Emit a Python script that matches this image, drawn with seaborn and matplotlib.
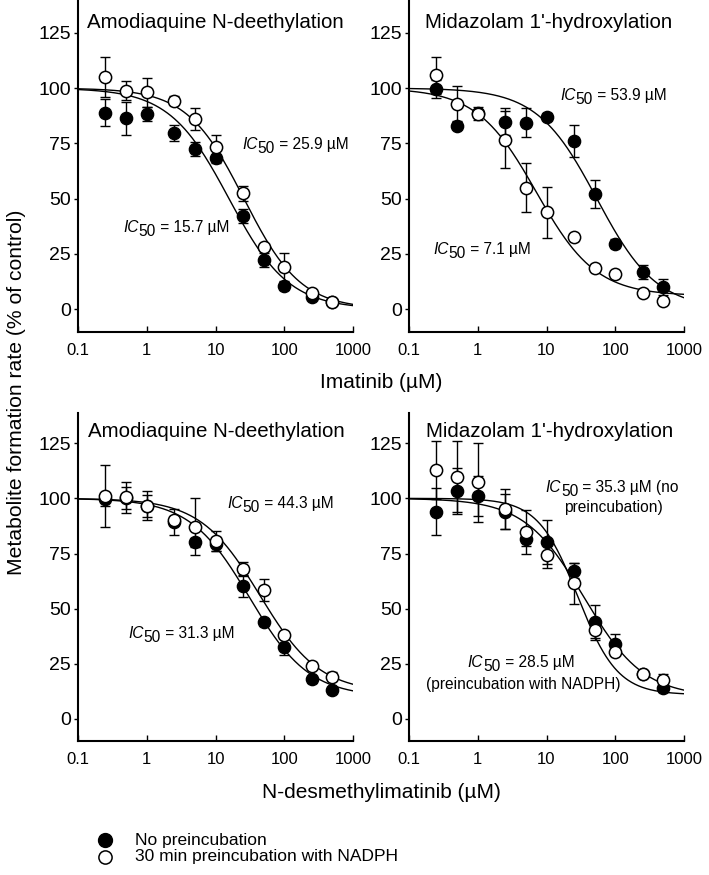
import numpy as np
import pandas as pd
import matplotlib
matplotlib.use("Agg")
import matplotlib.pyplot as plt
import seaborn as sns
from matplotlib.lines import Line2D
from matplotlib.ticker import FixedLocator, FixedFormatter, NullLocator

# ---------------- data ----------------
conc = [0.25, 0.5, 1, 2.5, 5, 10, 25, 50, 100, 250, 500]

# Top-left: Amodiaquine N-deethylation, imatinib
a_no = [88.9, 86.3, 88.3, 79.6, 72.5, 68.2, 42.1, 22.2, 10.4, 5.6, 3.0]
a_no_err = [6, 7.5, 3, 3.5, 3, 2, 3, 3, 2, 1, 1]
a_pre = [104.9, 98.9, 98.1, 94.3, 85.9, 73.5, 52.4, 27.9, 19.2, 7.1, 3.3]
a_pre_err = [9, 4.4, 6.6, 2, 5, 5.3, 3.5, 1.5, 6.3, 1, 1]

# Top-right: Midazolam 1'-hydroxylation, imatinib
b_no = [99.5, 83.0, 88.6, 84.8, 84.4, 87.1, 76.2, 52.0, 29.6, 16.8, 10.0]
b_no_err = [4, 1.5, 1.5, 6, 6.5, 1.5, 7.3, 6.4, 2, 3, 3.5]
b_pre = [105.8, 93.0, 88.5, 76.7, 55.0, 43.8, 32.4, 18.7, 15.9, 7.4, 3.6]
b_pre_err = [8.3, 8, 3, 13, 11, 11.5, 1.5, 1.5, 1.5, 1.5, 1.5]

# Bottom-left: Amodiaquine N-deethylation, N-desmethylimatinib
c_no = [99.5, 100.0, 96.7, 89.4, 80.1, 79.3, 60.4, 43.8, 32.8, 18.0, 13.1]
c_no_err = [3, 5, 5, 6, 2, 3, 5, 1.5, 3.8, 1.5, 1.5]
c_pre = [101.2, 100.5, 96.7, 90.0, 87.2, 80.8, 68.0, 58.5, 38.1, 24.2, 19.2]
c_pre_err = [14, 7, 6.5, 2, 13, 4.5, 3.3, 5, 1.5, 1.5, 2.1]

# Bottom-right: Midazolam 1'-hydroxylation, N-desmethylimatinib
d_no = [94.0, 103.4, 101.1, 94.0, 81.5, 80.4, 67.2, 44.1, 33.9, 20.4, 13.9]
d_no_err = [10.5, 10.5, 9, 8, 3, 10, 3.3, 7.5, 4.7, 1.5, 1.5]
d_pre = [112.9, 109.8, 107.3, 95.1, 84.9, 74.3, 61.5, 40.3, 30.5, 20.4, 17.7]
d_pre_err = [13.3, 16, 18, 9, 10, 6, 9.4, 4.5, 1.5, 1.5, 2.7]

# fitted inhibition curves: [IC50, top, bottom, hill]
a_no_fit = [15.7, 100, 0, 1.0]
a_pre_fit = [25.9, 100, 0, 1.05]
b_no_fit = [53.9, 100, 0, 1.0]
b_pre_fit = [7.1, 100, 6, 1.0]
c_no_fit = [31.3, 100, 10, 1.0]
c_pre_fit = [44.3, 100, 12, 1.0]
d_no_fit = [35.3, 100, 10, 1.0]
d_pre_fit = [28.5, 100, 11, 1.5]

titles = ["Amodiaquine N-deethylation", "Midazolam 1'-hydroxylation",
          "Amodiaquine N-deethylation", "Midazolam 1'-hydroxylation"]
xlabels = ["Imatinib (µM)", "N-desmethylimatinib (µM)"]
ylabel = "Metabolite formation rate (% of control)"
xtick_vals = [0.1, 1, 10, 100, 1000]
xtick_labels = ["0.1", "1", "10", "100", "1000"]
ytick_vals = [0, 25, 50, 75, 100, 125]
legend_labels = ["No preincubation", "30 min preincubation with NADPH"]

# ---------------- style ----------------
sns.set_theme(style="ticks")
plt.rcParams['font.family'] = ['Liberation Sans', 'DejaVu Sans']

W, H = 709, 875
fig = plt.figure(figsize=(W / 100, H / 100), dpi=100)
renderer = fig.canvas.get_renderer()


def ax_at(x0, y0, x1, y1):
    return fig.add_axes([x0 / W, 1 - y1 / H, (x1 - x0) / W, (y1 - y0) / H])


def hill(xs, p):
    ic, top, bot, h = p
    return bot + (top - bot) / (1 + (xs / ic) ** h)


panels = [
    (ax_at(78, 0, 353, 332), (-10.4, 139.9), a_no, a_no_err, a_pre, a_pre_err, a_no_fit, a_pre_fit),
    (ax_at(409, 0, 684, 332), (-10.4, 139.9), b_no, b_no_err, b_pre, b_pre_err, b_no_fit, b_pre_fit),
    (ax_at(78, 413, 353, 741), (-10.0, 138.7), c_no, c_no_err, c_pre, c_pre_err, c_no_fit, c_pre_fit),
    (ax_at(409, 413, 684, 741), (-10.0, 138.7), d_no, d_no_err, d_pre, d_pre_err, d_no_fit, d_pre_fit),
]

xs = np.logspace(-1, 3, 400)
for ax, ylim, no, no_e, pre, pre_e, fno, fpre in panels:
    ax.set_xscale('log')
    for p in (fno, fpre):
        sns.lineplot(x=xs, y=hill(xs, p), ax=ax, color='black', lw=1.0,
                     estimator=None, sort=False, zorder=1)
    ax.errorbar(conc, no, yerr=no_e, fmt='none', ecolor='black', elinewidth=1,
                capsize=3.6, capthick=1, zorder=2)
    sns.scatterplot(x=conc, y=no, ax=ax, color='black', s=78, edgecolor='black',
                    linewidth=1, zorder=3)
    ax.errorbar(conc, pre, yerr=pre_e, fmt='none', ecolor='black', elinewidth=1,
                capsize=3.6, capthick=1, zorder=4)
    sns.scatterplot(x=conc, y=pre, ax=ax, color='white', s=78, edgecolor='black',
                    linewidth=1.1, zorder=5)
    ax.set_xlim(0.1, 1000)
    ax.set_ylim(*ylim)
    ax.xaxis.set_major_locator(FixedLocator(xtick_vals))
    ax.xaxis.set_major_formatter(FixedFormatter(xtick_labels))
    ax.xaxis.set_minor_locator(NullLocator())
    ax.set_yticks(ytick_vals)
    ax.set_yticklabels([str(v) for v in ytick_vals])
    ax.tick_params(axis='x', direction='in', length=4.5, width=1, pad=8, labelsize=12, colors='black')
    ax.tick_params(axis='y', direction='out', length=3, width=1, pad=2, labelsize=14, colors='black')
    for s in ('top', 'right'):
        ax.spines[s].set_visible(False)
    for s in ('left', 'bottom'):
        ax.spines[s].set_linewidth(1.5)
        ax.spines[s].set_color('black')
    ax.set_xlabel('')
    ax.set_ylabel('')
    ax.patch.set_alpha(0)


def px_text(x, y, s, **kw):
    return fig.text(x / W, 1 - y / H, s, **kw)


# titles
title_pos = [(87, 28), (425, 28), (88, 437), (426, 437)]
for (tx, ty), t in zip(title_pos, titles):
    px_text(tx, ty, t, fontsize=14.8, ha='left', va='baseline', color='black')

# axis labels
px_text(381.5, 383, xlabels[0], fontsize=15, ha='center', va='center', color='black')
px_text(381.5, 793, xlabels[1], fontsize=15, ha='center', va='center', color='black')
px_text(17, 392, ylabel, fontsize=15.2, ha='center', va='center', rotation=90, color='black')


def rich(xpx, ybase, parts, fs=11, ha='left'):
    arts = []
    off = 0
    for txt, st, dy, scale in parts:
        t = fig.text(0, 0, txt, fontsize=fs * scale, style=st, ha='left', va='baseline', color='black')
        w = t.get_window_extent(renderer).width
        arts.append((t, off, dy))
        off += w
    x0 = xpx - (off / 2 if ha == 'center' else 0)
    for t, o, dy in arts:
        t.set_position(((x0 + o) / W, 1 - (ybase + dy) / H))


def ic50(xpx, ybase, rest, fs=11.2, ha='left'):
    rich(xpx, ybase, [("IC", 'italic', 0, 1.0), ("50", 'normal', 4, 1.0), (rest, 'normal', 0, 1.0)], fs, ha)


ic50(242, 149, " = 25.9 µM")
ic50(123, 232, " = 15.7 µM")
ic50(560, 100, " = 53.9 µM")
ic50(433, 254, " = 7.1 µM")
ic50(227, 508, " = 44.3 µM")
ic50(128, 638, " = 31.3 µM")
ic50(612, 492, " = 35.3 µM (no", ha='center')
px_text(613, 512, "preincubation)", fontsize=11.2, ha='center', va='baseline', color='black')
ic50(521, 667, " = 28.5 µM", ha='center')
px_text(523, 689, "(preincubation with NADPH)", fontsize=11.2, ha='center', va='baseline', color='black')

# legend
fig.add_artist(Line2D([105 / W], [1 - 840 / H], marker='o', markersize=10, color='black',
                      markerfacecolor='black', markeredgecolor='black', transform=fig.transFigure))
fig.add_artist(Line2D([105 / W], [1 - 857 / H], marker='o', markersize=9.5, color='black',
                      markerfacecolor='white', markeredgecolor='black', markeredgewidth=1.1,
                      transform=fig.transFigure))
px_text(135, 840, legend_labels[0], fontsize=12.5, ha='left', va='center', color='black')
px_text(135, 857, legend_labels[1], fontsize=12.5, ha='left', va='center', color='black')

fig.savefig("out.png", dpi=100)
